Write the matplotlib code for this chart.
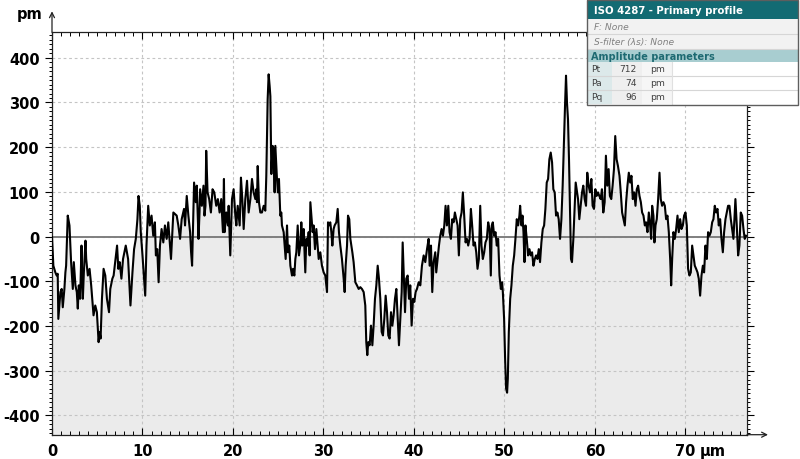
import matplotlib
matplotlib.use("Agg")
import matplotlib.pyplot as plt
from matplotlib.ticker import MultipleLocator
from matplotlib.patches import Rectangle
from matplotlib.lines import Line2D

# ---------------- data ----------------
x_seg1 = [0.0, 0.15, 0.37, 0.52, 0.63, 0.70, 0.93, 1.07, 1.19, 1.37,
          1.48, 1.56, 1.74, 1.93, 2.11, 2.30, 2.41, 2.59, 2.74, 2.85,
          2.96, 3.11, 3.26, 3.33, 3.41, 3.52, 3.70, 3.78, 3.96, 4.15,
          4.33, 4.59, 4.78, 4.96, 5.15, 5.26, 5.37, 5.52, 5.70, 5.89,
          6.07, 6.30, 6.44, 6.67, 6.81, 7.19, 7.33, 7.48, 7.67, 7.85,
          8.15, 8.41, 8.67, 8.89, 9.07, 9.26, 9.44, 9.56, 9.70, 9.81,
          10.0, 10.30, 10.44, 10.63, 10.81, 11.00, 11.19, 11.37, 11.48, 11.63,
          11.78, 11.93, 12.11, 12.30, 12.48, 12.67, 12.85, 13.04, 13.15, 13.41,
          13.78, 13.96, 14.15, 14.33, 14.59, 14.70, 14.89, 15.07, 15.26, 15.37,
          15.48, 15.70, 15.89, 16.00, 16.19, 16.30, 16.37, 16.56, 16.74, 16.85,
          16.96, 17.04, 17.19, 17.37, 17.56, 17.74, 17.93, 18.15, 18.33, 18.52,
          18.70, 18.89, 19.00, 19.07, 19.26, 19.44, 19.52, 19.70, 19.89]
z_seg1 = [-1, -65, -80, -87, -83, -184, -124, -117, -158, -117,
          -80, -65, 47, 25, -57, -117, -57, -109, -124, -161,
          -109, -139, -20, -87, -139, -80, -9, -50, -87, -72,
          -109, -176, -154, -169, -236, -213, -228, -139, -72, -87,
          -139, -169, -117, -94, -87, -20, -72, -57, -94, -50,
          -20, -50, -154, -80, -28, -5, 39, 91, 69, 10,
          -42, -132, -20, 69, 25, 47, 2, 32, -42, -28,
          -102, -20, 17, -13, 25, -5, 32, -20, -50, 54,
          47, 25, -5, 39, 62, 25, 91, 47, 10, -35,
          -65, 121, 77, 114, -5, 54, 106, 69, 114, 47,
          69, 192, 99, 84, 54, 106, 99, 69, 84, 54,
          84, 10, 129, 10, 54, 25, 69, -42, 84]

x_seg2 = [20.07, 20.26, 20.37, 20.52, 20.74, 20.88, 21.03, 21.18, 21.36, 21.55,
          21.73, 21.92, 22.10, 22.28, 22.47, 22.58, 22.65, 22.73, 22.87, 23.02,
          23.20, 23.39, 23.57, 23.68, 23.83, 23.94, 24.05, 24.13, 24.24, 24.38,
          24.49, 24.60, 24.68, 24.79, 24.86, 24.97, 25.08, 25.16, 25.23, 25.34,
          25.41, 25.60, 25.71, 25.82, 25.97, 26.08, 26.22, 26.34, 26.52, 26.63,
          26.78, 26.89, 27.00, 27.15, 27.29, 27.44, 27.55, 27.66, 27.81, 27.99,
          28.10, 28.25, 28.36, 28.47, 28.55, 28.66, 28.80, 28.91, 29.06, 29.21,
          29.36, 29.47, 29.65, 29.83, 30.02, 30.20, 30.39, 30.50, 30.61, 30.75,
          30.87, 30.98, 31.12, 31.23, 31.42, 31.57, 31.71, 31.86, 32.04, 32.23,
          32.34, 32.45, 32.60, 32.71, 32.85, 32.97, 33.08, 33.19, 33.33, 33.52,
          33.70, 33.89, 34.07, 34.25, 34.44, 34.62, 34.73, 34.84, 34.95, 35.10,
          35.25, 35.40, 35.54, 35.69, 35.84, 35.99, 36.13, 36.28, 36.43, 36.57,
          36.72, 36.87, 37.02, 37.16, 37.31, 37.46, 37.61, 37.75, 37.90, 38.05,
          38.20, 38.34, 38.49, 38.64, 38.75, 38.86, 39.01, 39.15, 39.30, 39.45,
          39.59, 39.74, 39.89, 40.04, 40.18, 40.33, 40.52, 40.70, 40.88, 41.07,
          41.25, 41.44, 41.62]
z_seg2 = [106, 47, 25, 69, 25, 132, 84, 17, 84, 125,
          54, 84, 129, 99, 84, 106, 77, 158, 77, 54,
          54, 69, 58, 136, 307, 363, 337, 314, 140, 203,
          196, 99, 203, 158, 129, 99, 129, 84, 47, 54,
          25, 10, -20, -50, 25, -35, -20, -65, -87, -72,
          -87, -50, -35, 25, -42, -20, 32, -20, 17, -80,
          -5, -20, 10, -42, 77, 47, 10, 25, -28, 17,
          -20, -50, -35, -65, -80, -87, -124, 32, 25, 32,
          10, -20, 17, 25, 32, 62, 10, -20, -50, -94,
          -124, -65, -20, 47, 39, -5, -20, -35, -57, -102,
          -109, -117, -113, -117, -124, -154, -236, -265, -236, -243,
          -199, -243, -199, -139, -109, -65, -94, -139, -213, -221,
          -184, -132, -169, -221, -228, -169, -199, -176, -139, -117,
          -184, -243, -184, -124, -13, -80, -169, -94, -87, -139,
          -109, -199, -139, -146, -124, -117, -102, -109, -65, -42,
          -57, -28, -5]

x_seg3 = [41.73, 41.88, 42.02, 42.17, 42.35, 42.46, 42.61, 42.76, 42.90, 43.05,
          43.20, 43.35, 43.49, 43.64, 43.79, 43.93, 44.08, 44.23, 44.38, 44.52,
          44.67, 44.82, 44.96, 45.11, 45.26, 45.40, 45.55, 45.70, 45.85, 45.99,
          46.14, 46.29, 46.43, 46.58, 46.73, 46.88, 47.02, 47.17, 47.32, 47.46,
          47.61, 47.76, 47.90, 48.05, 48.20, 48.35, 48.49, 48.60, 48.71, 48.86,
          49.01, 49.15, 49.30, 49.45, 49.60, 49.74, 49.82, 49.96, 50.07, 50.18,
          50.29, 50.37, 50.48, 50.63, 50.77, 50.92, 51.07, 51.21, 51.36, 51.51,
          51.65, 51.73, 51.88, 51.99, 52.10, 52.21, 52.32, 52.46, 52.61, 52.76,
          52.90, 53.05, 53.20, 53.35, 53.49, 53.64, 53.79, 53.93, 54.08, 54.23,
          54.38, 54.52, 54.67, 54.82, 54.96, 55.11, 55.26, 55.40, 55.55, 55.70,
          55.85, 55.99, 56.14, 56.29, 56.43, 56.58, 56.69, 56.80, 56.91, 57.02,
          57.13, 57.24, 57.35, 57.46, 57.61, 57.76, 57.87, 57.98, 58.13, 58.27,
          58.42, 58.57, 58.71, 58.86, 59.01, 59.15, 59.30, 59.45, 59.60, 59.74,
          59.89, 60.04, 60.18, 60.33, 60.48, 60.63, 60.77, 60.92, 61.07, 61.21,
          61.36, 61.51, 61.65, 61.80, 61.95, 62.10, 62.24, 62.39, 62.54]
z_seg3 = [-65, -20, -124, -57, -35, -80, -50, -20, 2, 17,
          2, 25, 69, 25, 69, 10, -5, 39, 32, 54,
          39, 25, -42, 39, 54, 99, 47, -13, -5, -20,
          -5, 62, 25, -20, -13, -35, -72, -50, 69, -20,
          -50, -35, -13, -5, 32, 17, -87, 25, 32, 2,
          10, -20, -5, -87, -117, -102, -124, -184, -273, -340,
          -349, -317, -213, -139, -109, -65, -42, -5, 39, 25,
          47, 69, 25, 47, 10, -57, 25, -5, -42, -28,
          -42, -35, -65, -50, -42, -50, -28, -57, -13, 17,
          25, 62, 121, 129, 173, 188, 166, 106, 99, 47,
          54, 39, -5, 39, 114, 218, 292, 360, 299, 262,
          173, 62, -50, -57, -5, 69, 121, 106, 84, 39,
          69, 99, 114, 84, 69, 143, 114, 99, 129, 69,
          62, 106, 91, 99, 91, 84, 106, 54, 77, 181,
          114, 151, 91, 84, 114, 151, 225, 173, 158]

x_seg4 = [62.71, 62.85, 63.00, 63.15, 63.30, 63.44, 63.59, 63.74, 63.89, 64.03,
          64.18, 64.33, 64.48, 64.62, 64.77, 64.92, 65.07, 65.21, 65.36, 65.51,
          65.65, 65.80, 65.95, 66.10, 66.21, 66.32, 66.46, 66.57, 66.69, 66.83,
          66.98, 67.13, 67.27, 67.42, 67.57, 67.72, 67.86, 68.01, 68.16, 68.31,
          68.42, 68.53, 68.67, 68.82, 68.97, 69.12, 69.26, 69.41, 69.56, 69.71,
          69.85, 70.00, 70.15, 70.29, 70.44, 70.59, 70.74, 70.88, 71.03, 71.18,
          71.33, 71.47, 71.62, 71.77, 71.92, 72.06, 72.21, 72.36, 72.50, 72.65,
          72.80, 72.95, 73.09, 73.24, 73.39, 73.54, 73.68, 73.83, 73.98, 74.13,
          74.27, 74.42, 74.57, 74.71, 74.86, 75.01, 75.16, 75.30, 75.45, 75.52,
          75.67, 75.82, 75.96, 76.11, 76.26, 76.41, 76.55, 76.70]
z_seg4 = [136, 99, 54, 39, 25, 77, 114, 143, 121, 136,
          84, 99, 69, 106, 114, 91, 77, 54, 47, 25,
          32, 10, 54, 25, -5, 69, 47, -13, 25, 39,
          84, 143, 84, 69, 77, 69, 39, 47, 10, -50,
          -109, -50, 10, -5, 17, 47, 10, 39, 17, 25,
          47, 54, 25, -72, -87, -80, -20, -42, -65, -72,
          -80, -94, -132, -87, -65, -80, -20, -50, 10, 2,
          10, 32, 39, 69, 54, 62, 25, 39, -5, -35,
          10, 39, 54, 69, 69, 39, 17, -5, 54, 84,
          25, -42, -20, 54, 47, 17, -5, 2]

x_um = x_seg1 + x_seg2 + x_seg3 + x_seg4
z_pm = z_seg1 + z_seg2 + z_seg3 + z_seg4

x_ticks = [0, 10, 20, 30, 40, 50, 60, 70]
y_ticks = [-400, -300, -200, -100, 0, 100, 200, 300, 400]
x_range = (0, 76.8)
y_range = (-443, 457)

table_title = "ISO 4287 - Primary profile"
table_filters = ["F: None", "S-filter (\u03bbs): None"]
table_section = "Amplitude parameters"
param_names = ["Pt", "Pa", "Pq"]
param_values = ["712", "74", "96"]
param_units = ["pm", "pm", "pm"]

# ---------------- figure ----------------
W, H = 800, 460
fig = plt.figure(figsize=(W / 100, H / 100), dpi=100)
plt.rcParams['font.family'] = ['DejaVu Sans']
ax = fig.add_axes([52 / W, 1 - 435.7 / H, (747 - 52) / W, (435.7 - 33.3) / H])
ax.set_xlim(*x_range)
ax.set_ylim(*y_range)

ax.fill_between(x_um, z_pm, y_range[0], color='#ebebeb', linewidth=0, zorder=1)
ax.grid(True, which='major', color='#c4c4c4', linestyle=(0, (2.5, 2.5)), linewidth=0.8)
ax.axhline(0, color='#7f7f7f', linewidth=1.4, zorder=2)
ax.plot(x_um, z_pm, color='black', linewidth=1.5, zorder=3)

ax.set_xticks(x_ticks)
ax.set_yticks(y_ticks)
ax.xaxis.set_minor_locator(MultipleLocator(1))
ax.yaxis.set_minor_locator(MultipleLocator(10))
ax.set_xticklabels([str(t) for t in x_ticks])
ax.set_yticklabels([str(t) for t in y_ticks])
ax.tick_params(axis='x', which='major', direction='in', length=5, width=0.8,
               top=True, bottom=True, pad=6, labelsize=10.5)
ax.tick_params(axis='x', which='minor', direction='in', length=3, width=0.7,
               top=True, bottom=True)
ax.tick_params(axis='y', which='major', direction='out', length=5, width=0.8,
               left=True, right=True, pad=4, labelsize=10.5)
ax.tick_params(axis='y', which='minor', direction='out', length=2.5, width=0.7,
               left=True, right=True)
for lab in ax.get_xticklabels() + ax.get_yticklabels():
    lab.set_fontweight('bold')
for s in ax.spines.values():
    s.set_linewidth(0.9)
    s.set_color('#222222')

# unit labels
ax.annotate("\u00b5m", xy=(71.6, 0), xycoords=ax.get_xaxis_transform(),
            xytext=(0, -6), textcoords='offset points', ha='left', va='top',
            fontsize=10.5, fontweight='bold', annotation_clip=False)
fig.text(42 / W, 1 - 15 / H, "pm", ha='right', va='center', fontsize=10.5, fontweight='bold')

# axis arrows
ax.annotate('', xy=(0, 1 + 21 / 402.4), xytext=(0, 1), xycoords='axes fraction',
            arrowprops=dict(arrowstyle='->', lw=0.9, color='#222222', mutation_scale=9,
                            shrinkA=0, shrinkB=0), annotation_clip=False)
ax.annotate('', xy=(1 + 21 / 695, 0), xytext=(1, 0), xycoords='axes fraction',
            arrowprops=dict(arrowstyle='->', lw=0.9, color='#222222', mutation_scale=9,
                            shrinkA=0, shrinkB=0), annotation_clip=False)

# ---------------- parameter table ----------------
def rect(x0, y0, x1, y1, fc, ec='none', lw=0, z=10):
    fig.add_artist(Rectangle((x0 / W, 1 - y1 / H), (x1 - x0) / W, (y1 - y0) / H,
                             transform=fig.transFigure, facecolor=fc, edgecolor=ec,
                             linewidth=lw, zorder=z))

def hline(x0, x1, y, c, lw=0.8, z=12):
    fig.add_artist(Line2D([x0 / W, x1 / W], [1 - y / H, 1 - y / H], transform=fig.transFigure,
                          color=c, linewidth=lw, zorder=z))

def vline(x, y0, y1, c, lw=0.8, z=12):
    fig.add_artist(Line2D([x / W, x / W], [1 - y0 / H, 1 - y1 / H], transform=fig.transFigure,
                          color=c, linewidth=lw, zorder=z))

def ftext(x, y, s, **kw):
    fig.text(x / W, 1 - y / H, s, zorder=13, **kw)

TX0, TX1 = 587, 798
rect(TX0, 1, TX1, 106, 'white')
rect(TX0, 1, TX1, 20, '#136b73')
ftext(594, 10.5, table_title, color='white', fontsize=7.3, fontweight='bold', va='center')
row_y = [20, 35]
for i, s in enumerate(table_filters):
    rect(TX0, row_y[i], TX1, row_y[i] + 15, '#f2f2f2')
    ftext(594, row_y[i] + 7.5, s, color='#808080', fontsize=6.6, style='italic', va='center')
    hline(TX0, TX1, row_y[i] + 15, '#d6d6d6')
rect(TX0, 50, TX1, 63, '#a8cdd0')
ftext(591, 56.5, table_section, color='#1e6a72', fontsize=7.0, fontweight='bold', va='center')
for i, (n, v, u) in enumerate(zip(param_names, param_values, param_units)):
    y0 = 63 + 14 * i
    rect(TX0, y0, 612, y0 + 14, '#dce9ea')
    rect(612, y0, 642, y0 + 14, '#efefef')
    rect(642, y0, 672, y0 + 14, '#f6f6f6')
    ftext(591, y0 + 7, n, color='#404040', fontsize=6.6, va='center')
    ftext(637, y0 + 7, v, color='#404040', fontsize=6.6, va='center', ha='right')
    ftext(650, y0 + 7, u, color='#404040', fontsize=6.6, va='center')
    if i < 2:
        hline(TX0, TX1, y0 + 14, '#d6d6d6')
vline(672, 63, 105, '#e0e0e0')
rect(TX0, 1, TX1, 106, 'none', ec='#5e5e5e', lw=1.0, z=14)

fig.savefig("out.png", dpi=100)
